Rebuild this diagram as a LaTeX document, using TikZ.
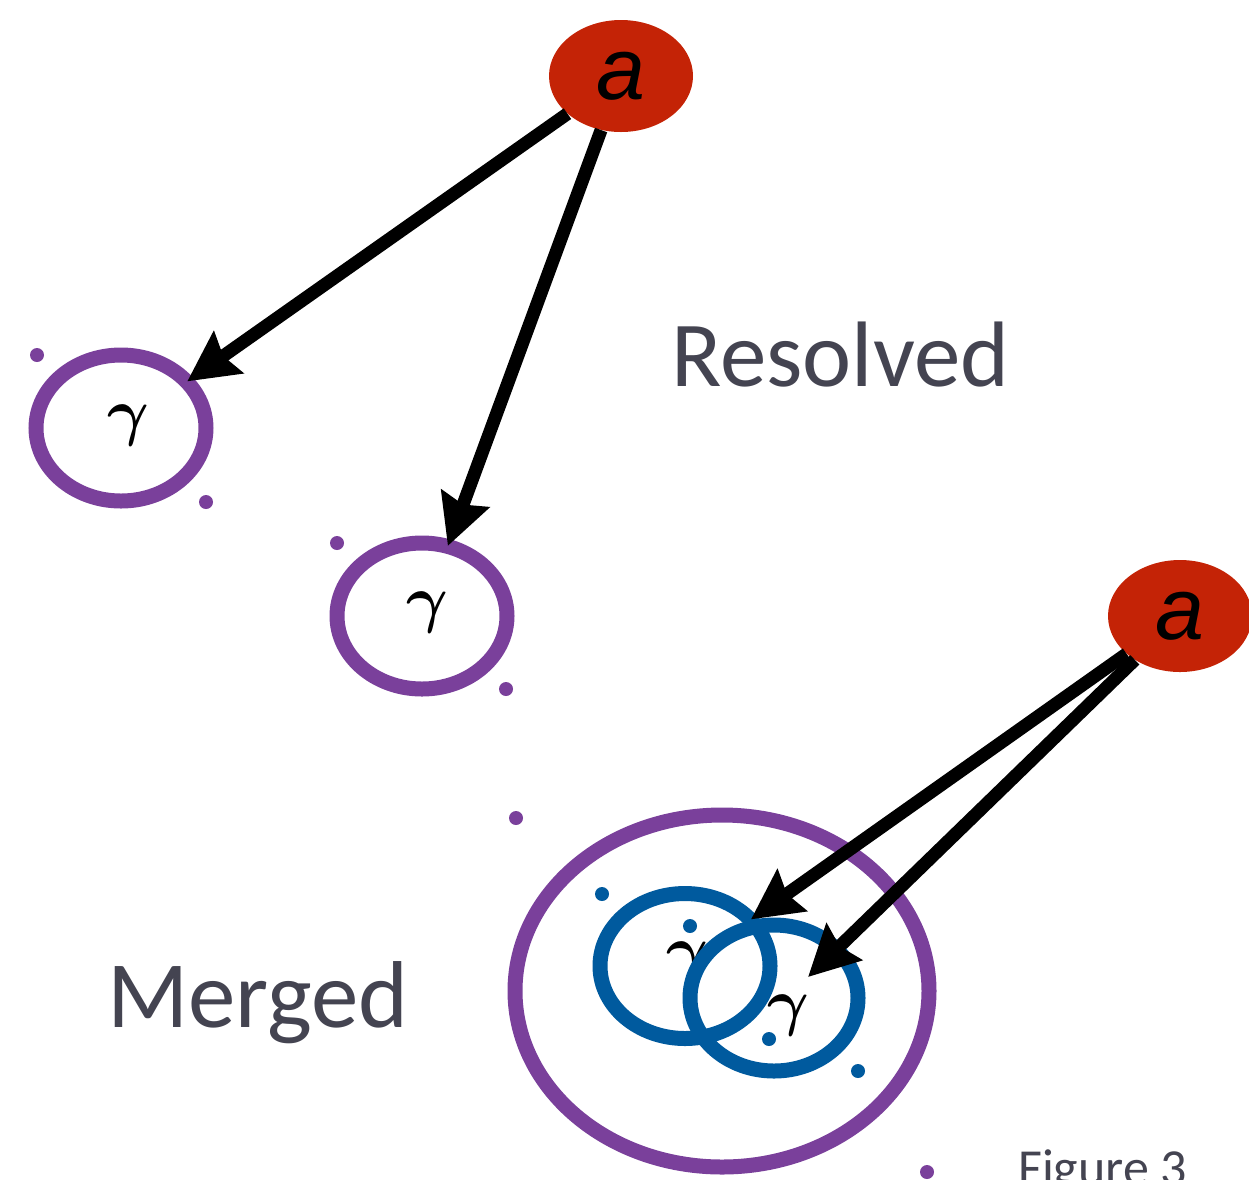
\RequirePackage{fix-cm}
\documentclass[tikz,border=0pt]{standalone}
\usepackage{amsmath}
\usepackage{fontspec}
\setmainfont{Carlito}
\newfontfamily\afont{Liberation Sans}
\usetikzlibrary{shapes.geometric,arrows.meta}
\definecolor{nred}{RGB}{196,35,6}
\definecolor{purp}{RGB}{122,64,155}
\definecolor{nblue}{RGB}{0,90,158}
\definecolor{txt}{RGB}{68,68,81}
\begin{document}
\begin{tikzpicture}[x=1pt,y=-1pt,
  anode/.style={ellipse, fill=nred, inner sep=0pt, minimum width=144pt, minimum height=112pt,
    font=\afont\itshape\fontsize{88}{88}\selectfont},
  ring/.style={ellipse, draw=#1, line width=15pt, inner sep=0pt},
  gam/.style={inner sep=0pt, font=\fontsize{64}{64}\selectfont},
  lab/.style={anchor=base west, inner sep=0pt, text=txt, font=\fontsize{93}{93}\selectfont},
  arr/.style={line width=13pt, -{Stealth[length=50pt,width=50pt,inset=6pt]}, shorten >=-7pt},
  pdot/.style={fill=purp},
  bdot/.style={fill=nblue}]
\useasboundingbox (0,0) rectangle (1249,1179);
\clip (0,0) rectangle (1249,1179);

% top-level nodes
\node[anode] (a1) at (621,76) {a};
\node[anode] (a2) at (1180,616) {a};

% resolved gammas
\node[ring=purp, minimum width=170pt, minimum height=146pt] (g1) at (121,428) {};
\node[gam] (g1t) at (128,425) {$\boldsymbol{\gamma}$};
\node[ring=purp, minimum width=170pt, minimum height=146pt] (g2) at (422,616) {};
\node[gam] (g2t) at (427,612) {$\boldsymbol{\gamma}$};
\fill[pdot] (37,355) circle[radius=7pt];
\fill[pdot] (206,502) circle[radius=7pt];
\fill[pdot] (337,543) circle[radius=7pt];
\fill[pdot] (506,689) circle[radius=7pt];

% merged
\node[ring=purp, minimum width=414pt, minimum height=352pt] (big) at (722,991) {};
\node[ring=nblue, minimum width=170pt, minimum height=145pt] (b1) at (685,966) {};
\node[gam] (b1t) at (687,962) {$\boldsymbol{\gamma}$};
\node[ring=nblue, minimum width=168pt, minimum height=146pt] (b2) at (774,998) {};
\fill[bdot] (769,1039) circle[radius=7pt];
\node[gam] (b2t) at (788,1015) {$\boldsymbol{\gamma}$};
\fill[bdot] (602,894) circle[radius=7pt];
\fill[bdot] (690,926) circle[radius=7pt];
\fill[bdot] (858,1071) circle[radius=7pt];
\fill[pdot] (516,818) circle[radius=7pt];
\fill[pdot] (927,1172) circle[radius=7pt];

% labels
\node[lab] (res) at (671,386) {Resolved};
\node[lab, font=\fontsize{95}{95}\selectfont] (mer) at (107,1027) {Merged};
\node[lab, font=\fontsize{52}{52}\selectfont] (fig) at (1018,1185) {Figure 3};

% arrows
\coordinate (m2tip) at (808,977);
\draw[arr] (a1) -- (g1);
\draw[arr] (a1) -- (g2);
\draw[arr] (a2) -- (b1);
\draw[arr, shorten >=0pt] (a2) -- (m2tip);
\end{tikzpicture}
\end{document}
